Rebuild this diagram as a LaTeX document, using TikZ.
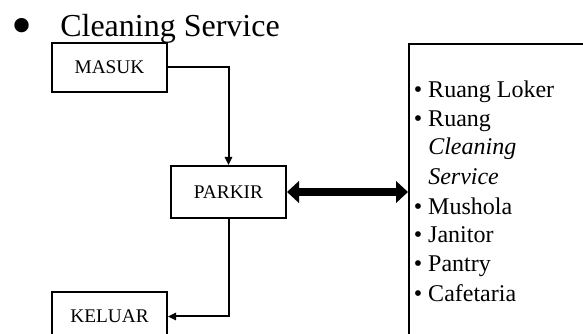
\documentclass[tikz,border=0pt]{standalone}
\usepackage{fontspec}
\setmainfont{Liberation Serif}
\usetikzlibrary{arrows.meta}

\tikzset{
  stage/.style={draw, line width=1.5pt, rectangle, inner sep=0pt,
    minimum width=86.25pt, minimum height=36.75pt,
    font=\fontsize{14.5pt}{16pt}\selectfont},
  flow/.style={line width=1.5pt, -{Triangle[length=6pt,width=5.5pt]}},
  link/.style={line width=6pt,
    {Triangle[length=9pt,width=16pt]}-{Triangle[length=9pt,width=16pt]}},
  item/.style={anchor=base west, inner sep=0pt,
    font=\fontsize{18pt}{21pt}\selectfont},
}

\begin{document}
\begin{tikzpicture}[x=0.75pt, y=-0.75pt]
  \clip (0,0) rectangle (583,334);
  \useasboundingbox (0,0) rectangle (583,334);

  % heading
  \node[anchor=base west, inner sep=0pt, font=\fontsize{45pt}{50pt}\selectfont]
    (bul) at (11,46) {\textbullet};
  \node[anchor=base west, inner sep=0pt, font=\fontsize{24pt}{28pt}\selectfont]
    (title) at (60,37) {Cleaning Service};

  % stages
  \node[stage] (masuk) at (109.5,67.5) {MASUK};
  \node[stage, minimum height=39pt] (parkir) at (228.5,192) {PARKIR};
  \node[stage] (keluar) at (109.5,316.5) {KELUAR};

  % facilities box
  \node[draw, line width=1.5pt, rectangle, anchor=north west,
    minimum width=187.5pt, minimum height=300pt] (fac) at (408,43) {};

  \node[item] (f1) at (428,98)  {\llap{\textbullet\hspace{4.5pt}}Ruang Loker};
  \node[item] (f2) at (428,127) {\llap{\textbullet\hspace{4.5pt}}Ruang};
  \node[item] (f3) at (428,155) {\itshape Cleaning};
  \node[item] (f4) at (428,185) {\itshape Service};
  \node[item] (f5) at (428,215) {\llap{\textbullet\hspace{4.5pt}}Mushola};
  \node[item] (f6) at (428,243) {\llap{\textbullet\hspace{4.5pt}}Janitor};
  \node[item] (f7) at (428,272) {\llap{\textbullet\hspace{4.5pt}}Pantry};
  \node[item] (f8) at (428,302) {\llap{\textbullet\hspace{4.5pt}}Cafetaria};

  % connectors
  \draw[flow] (masuk.east) -| (parkir.north);
  \draw[flow] (parkir.south) |- (keluar.east);
  \draw[link] (parkir.east) -- (parkir.east -| fac.west);
\end{tikzpicture}
\end{document}
